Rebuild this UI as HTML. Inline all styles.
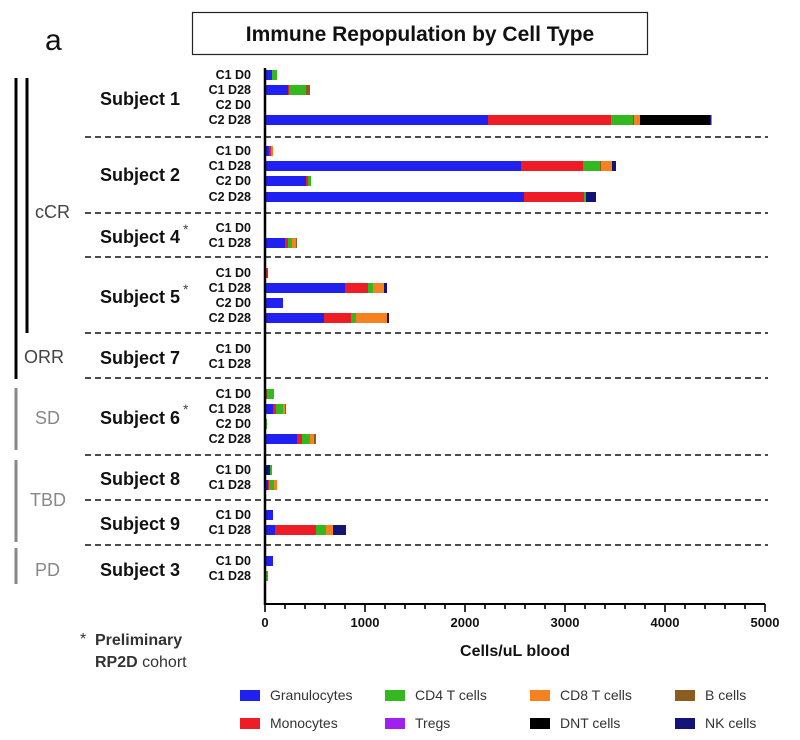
<!DOCTYPE html>
<html><head><meta charset="utf-8"><style>
body{margin:0;background:#fff}
svg{display:block;font-family:"Liberation Sans",Arial,sans-serif}
</style></head><body>
<svg width="800" height="740" xmlns="http://www.w3.org/2000/svg">
<rect x="0" y="0" width="800" height="740" fill="#fff"/>
<text x="45" y="50" font-size="30" fill="#111">a</text>
<rect x="192.5" y="12.5" width="455" height="42" fill="#fff" stroke="#222" stroke-width="1.2"/>
<text x="420" y="41" font-size="21" font-weight="bold" fill="#111" text-anchor="middle">Immune Repopulation by Cell Type</text>

<line x1="16" y1="78" x2="16" y2="379" stroke="#000" stroke-width="3"/>
<line x1="27" y1="78" x2="27" y2="333" stroke="#000" stroke-width="3"/>
<line x1="16" y1="388" x2="16" y2="450" stroke="#888" stroke-width="3"/>
<line x1="16" y1="460" x2="16" y2="542" stroke="#888" stroke-width="3"/>
<line x1="16" y1="548" x2="16" y2="584" stroke="#888" stroke-width="3"/>
<g font-size="18" fill="#444">
<text x="35" y="218">cCR</text>
<text x="24" y="363">ORR</text>
<text x="35" y="424" fill="#888">SD</text>
<text x="30" y="506" fill="#888">TBD</text>
<text x="35" y="576" fill="#888">PD</text>
</g>

<g font-size="18" font-weight="bold" fill="#111" text-anchor="end">
<text x="180" y="105">Subject 1</text>
<text x="180" y="181">Subject 2</text>
<text x="180" y="243">Subject 4</text>
<text x="180" y="303">Subject 5</text>
<text x="180" y="364">Subject 7</text>
<text x="180" y="424">Subject 6</text>
<text x="180" y="485">Subject 8</text>
<text x="180" y="530">Subject 9</text>
<text x="180" y="576">Subject 3</text>
</g>
<g font-size="14" fill="#444">
<text x="183" y="234">*</text><text x="183" y="294">*</text><text x="183" y="414">*</text>
</g>

<g font-size="12.5" font-weight="bold" fill="#111" text-anchor="end">
<text x="251" y="79">C1 D0</text><text x="251" y="94">C1 D28</text><text x="251" y="109">C2 D0</text><text x="251" y="124">C2 D28</text>
<text x="251" y="155">C1 D0</text><text x="251" y="170">C1 D28</text><text x="251" y="185">C2 D0</text><text x="251" y="201">C2 D28</text>
<text x="251" y="232">C1 D0</text><text x="251" y="247">C1 D28</text>
<text x="251" y="277">C1 D0</text><text x="251" y="292">C1 D28</text><text x="251" y="307">C2 D0</text><text x="251" y="322">C2 D28</text>
<text x="251" y="353">C1 D0</text><text x="251" y="368">C1 D28</text>
<text x="251" y="398">C1 D0</text><text x="251" y="413">C1 D28</text><text x="251" y="428">C2 D0</text><text x="251" y="443">C2 D28</text>
<text x="251" y="474">C1 D0</text><text x="251" y="489">C1 D28</text>
<text x="251" y="519">C1 D0</text><text x="251" y="534">C1 D28</text>
<text x="251" y="565">C1 D0</text><text x="251" y="580">C1 D28</text>
</g>

<g stroke="#111" stroke-width="1.6" stroke-dasharray="6,4">
<line x1="85" y1="137" x2="768" y2="137"/>
<line x1="85" y1="213" x2="768" y2="213"/>
<line x1="85" y1="257" x2="768" y2="257"/>
<line x1="85" y1="333" x2="768" y2="333"/>
<line x1="85" y1="378" x2="768" y2="378"/>
<line x1="85" y1="455" x2="768" y2="455"/>
<line x1="85" y1="500" x2="768" y2="500"/>
<line x1="85" y1="545" x2="768" y2="545"/>
</g>

<g>
<rect x="265" y="70" width="7" height="10" fill="#2020f0"/><rect x="272" y="70" width="5" height="10" fill="#33b820"/>
<rect x="265" y="85" width="23" height="10" fill="#2020f0"/><rect x="288" y="85" width="1" height="10" fill="#ee1c24"/><rect x="289" y="85" width="17" height="10" fill="#33b820"/><rect x="306" y="85" width="4" height="10" fill="#8b5e1f"/>
<rect x="265" y="115" width="223" height="10" fill="#2020f0"/><rect x="488" y="115" width="123" height="10" fill="#ee1c24"/><rect x="611" y="115" width="22" height="10" fill="#33b820"/><rect x="633" y="115" width="1" height="10" fill="#a020f0"/><rect x="634" y="115" width="6" height="10" fill="#f5821f"/><rect x="640" y="115" width="70" height="10" fill="#000"/><rect x="710" y="115" width="1.5" height="10" fill="#141478"/>
<rect x="265" y="146" width="4" height="10" fill="#2020f0"/><rect x="269" y="146" width="2" height="10" fill="#ee1c24"/><rect x="271" y="146" width="2" height="10" fill="#f5821f"/>
<rect x="265" y="161" width="256" height="10" fill="#2020f0"/><rect x="521" y="161" width="62" height="10" fill="#ee1c24"/><rect x="583" y="161" width="17" height="10" fill="#33b820"/><rect x="600" y="161" width="1" height="10" fill="#8b5e1f"/><rect x="601" y="161" width="11" height="10" fill="#f5821f"/><rect x="612" y="161" width="4" height="10" fill="#141478"/>
<rect x="265" y="176" width="41" height="10" fill="#2020f0"/><rect x="306" y="176" width="2" height="10" fill="#ee1c24"/><rect x="308" y="176" width="3" height="10" fill="#33b820"/>
<rect x="265" y="192" width="259" height="10" fill="#2020f0"/><rect x="524" y="192" width="60" height="10" fill="#ee1c24"/><rect x="584" y="192" width="2" height="10" fill="#33b820"/><rect x="586" y="192" width="10" height="10" fill="#141478"/>
<rect x="265" y="238" width="20" height="10" fill="#2020f0"/><rect x="285" y="238" width="3" height="10" fill="#ee1c24"/><rect x="288" y="238" width="4" height="10" fill="#33b820"/><rect x="292" y="238" width="4" height="10" fill="#f5821f"/><rect x="296" y="238" width="1" height="10" fill="#8b5e1f"/>
<rect x="265" y="268" width="3" height="10" fill="#ee1c24"/>
<rect x="265" y="283" width="80" height="10" fill="#2020f0"/><rect x="345" y="283" width="23" height="10" fill="#ee1c24"/><rect x="368" y="283" width="5" height="10" fill="#33b820"/><rect x="373" y="283" width="11" height="10" fill="#f5821f"/><rect x="384" y="283" width="3" height="10" fill="#141478"/>
<rect x="265" y="298" width="18" height="10" fill="#2020f0"/>
<rect x="265" y="313" width="59" height="10" fill="#2020f0"/><rect x="324" y="313" width="27" height="10" fill="#ee1c24"/><rect x="351" y="313" width="5" height="10" fill="#33b820"/><rect x="356" y="313" width="31" height="10" fill="#f5821f"/><rect x="387" y="313" width="2" height="10" fill="#141478"/>
<rect x="265" y="389" width="2" height="10" fill="#8b5e1f"/><rect x="267" y="389" width="7" height="10" fill="#33b820"/>
<rect x="265" y="404" width="8" height="10" fill="#2020f0"/><rect x="273" y="404" width="3" height="10" fill="#ee1c24"/><rect x="276" y="404" width="7" height="10" fill="#33b820"/><rect x="283" y="404" width="2" height="10" fill="#f5821f"/><rect x="285" y="404" width="1" height="10" fill="#8b5e1f"/>
<rect x="265" y="419" width="2" height="10" fill="#33b820"/>
<rect x="265" y="434" width="32" height="10" fill="#2020f0"/><rect x="297" y="434" width="5" height="10" fill="#ee1c24"/><rect x="302" y="434" width="8" height="10" fill="#33b820"/><rect x="310" y="434" width="4" height="10" fill="#f5821f"/><rect x="314" y="434" width="2" height="10" fill="#8b5e1f"/>
<rect x="265" y="465" width="5" height="10" fill="#141478"/><rect x="270" y="465" width="2" height="10" fill="#33b820"/>
<rect x="265" y="480" width="3" height="10" fill="#2020f0"/><rect x="268" y="480" width="1" height="10" fill="#ee1c24"/><rect x="269" y="480" width="5" height="10" fill="#33b820"/><rect x="274" y="480" width="3" height="10" fill="#f5821f"/>
<rect x="265" y="510" width="8" height="10" fill="#2020f0"/>
<rect x="265" y="525" width="10" height="10" fill="#2020f0"/><rect x="275" y="525" width="41" height="10" fill="#ee1c24"/><rect x="316" y="525" width="10" height="10" fill="#33b820"/><rect x="326" y="525" width="7" height="10" fill="#f5821f"/><rect x="333" y="525" width="13" height="10" fill="#141478"/>
<rect x="265" y="556" width="8" height="10" fill="#2020f0"/>
<rect x="265" y="571" width="3" height="10" fill="#33b820"/>
</g>

<line x1="265" y1="68" x2="265" y2="605" stroke="#000" stroke-width="2.5"/>
<line x1="264" y1="604" x2="765" y2="604" stroke="#000" stroke-width="2"/>
<g stroke="#000" stroke-width="1.6">
<line x1="265" y1="604" x2="265" y2="612"/><line x1="285" y1="604" x2="285" y2="609"/><line x1="305" y1="604" x2="305" y2="609"/><line x1="325" y1="604" x2="325" y2="609"/><line x1="345" y1="604" x2="345" y2="609"/>
<line x1="365" y1="604" x2="365" y2="612"/><line x1="385" y1="604" x2="385" y2="609"/><line x1="405" y1="604" x2="405" y2="609"/><line x1="425" y1="604" x2="425" y2="609"/><line x1="445" y1="604" x2="445" y2="609"/>
<line x1="465" y1="604" x2="465" y2="612"/><line x1="485" y1="604" x2="485" y2="609"/><line x1="505" y1="604" x2="505" y2="609"/><line x1="525" y1="604" x2="525" y2="609"/><line x1="545" y1="604" x2="545" y2="609"/>
<line x1="565" y1="604" x2="565" y2="612"/><line x1="585" y1="604" x2="585" y2="609"/><line x1="605" y1="604" x2="605" y2="609"/><line x1="625" y1="604" x2="625" y2="609"/><line x1="645" y1="604" x2="645" y2="609"/>
<line x1="665" y1="604" x2="665" y2="612"/><line x1="685" y1="604" x2="685" y2="609"/><line x1="705" y1="604" x2="705" y2="609"/><line x1="725" y1="604" x2="725" y2="609"/><line x1="745" y1="604" x2="745" y2="609"/>
<line x1="765" y1="604" x2="765" y2="612"/>
</g>
<g font-size="13" font-weight="bold" fill="#111" text-anchor="middle">
<text x="265" y="627">0</text><text x="365" y="627">1000</text><text x="465" y="627">2000</text>
<text x="565" y="627">3000</text><text x="665" y="627">4000</text><text x="765" y="627">5000</text>
</g>
<text x="515" y="656" font-size="16" font-weight="bold" fill="#111" text-anchor="middle">Cells/uL blood</text>

<text x="80" y="644" font-size="16" fill="#333">*</text>
<text x="95" y="645" font-size="16" fill="#333" font-weight="bold">Preliminary</text>
<text x="95" y="667" font-size="16" fill="#333"><tspan font-weight="bold">RP2D</tspan> cohort</text>

<g font-size="14" fill="#333">
<rect x="240" y="690" width="20" height="11" fill="#2020f0"/><text x="270" y="700">Granulocytes</text>
<rect x="240" y="718" width="20" height="11" fill="#ee1c24"/><text x="270" y="728">Monocytes</text>
<rect x="385" y="690" width="20" height="11" fill="#33b820"/><text x="415" y="700">CD4 T cells</text>
<rect x="385" y="718" width="20" height="11" fill="#a020f0"/><text x="415" y="728">Tregs</text>
<rect x="530" y="690" width="20" height="11" fill="#f5821f"/><text x="560" y="700">CD8 T cells</text>
<rect x="530" y="718" width="20" height="11" fill="#000"/><text x="560" y="728">DNT cells</text>
<rect x="675" y="690" width="20" height="11" fill="#8b5e1f"/><text x="705" y="700">B cells</text>
<rect x="675" y="718" width="20" height="11" fill="#141478"/><text x="705" y="728">NK cells</text>
</g>
</svg>
</body></html>
